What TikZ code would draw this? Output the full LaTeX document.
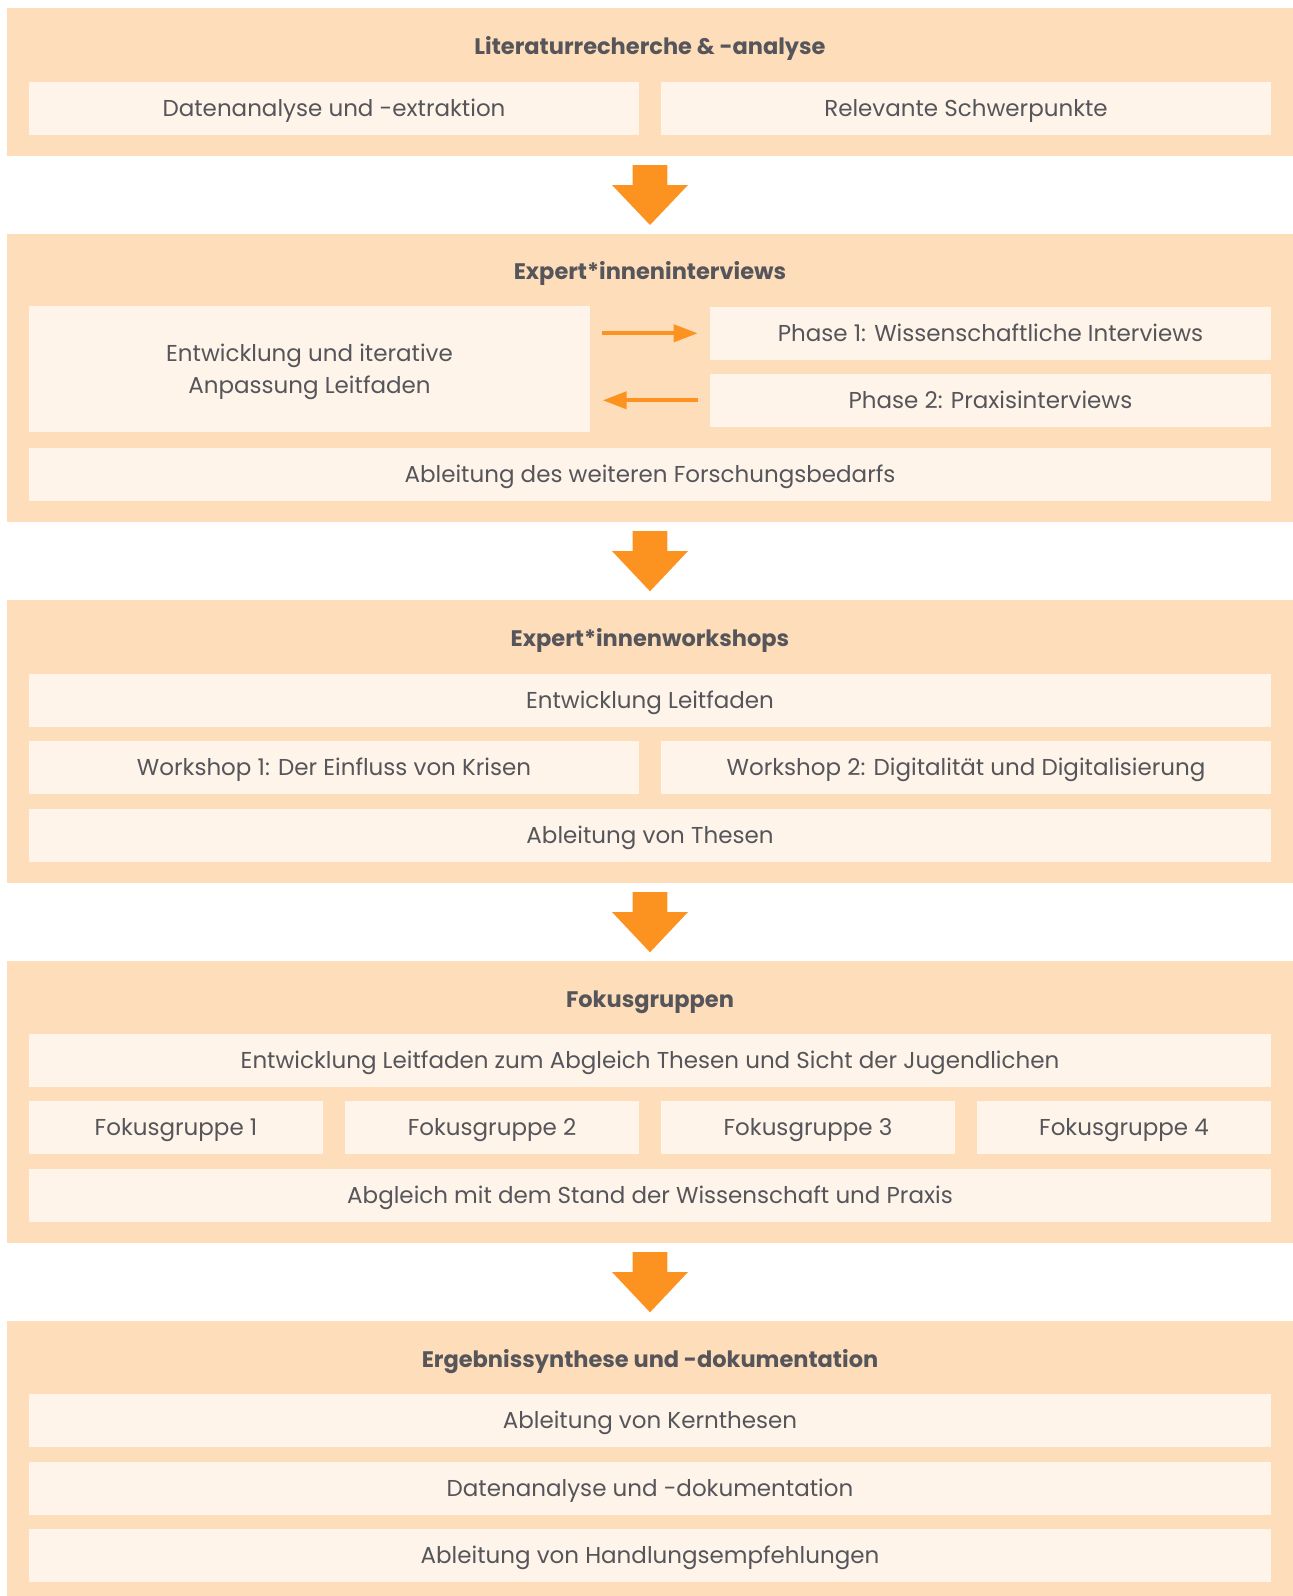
\documentclass[tikz,border=0pt]{standalone}
\usepackage{fontspec}
\setmainfont{Poppins}
\usetikzlibrary{arrows.meta,calc}
\definecolor{secc}{HTML}{FEDDBA}
\definecolor{cellc}{HTML}{FEF4EA}
\definecolor{arrc}{HTML}{FC9321}
\definecolor{txt}{HTML}{55555A}
\tikzset{
  sec/.style={fill=secc, draw=none, inner sep=0pt, outer sep=0pt, anchor=north west, minimum width=1286pt},
  cellbase/.style={fill=cellc, draw=none, inner sep=0pt, outer sep=0pt, anchor=north west, minimum height=53pt, text=txt, font=\fontsize{23}{32}\selectfont, align=center},
  cell/.style={cellbase, text height=16.1pt, text depth=0pt, yshift=-0.8pt},
  ttl/.style={text=txt, font=\fontsize{22.5}{28}\selectfont\bfseries, inner sep=0pt, text height=15.8pt, text depth=0pt},
  lbl/.style={text=txt, font=\fontsize{23}{32}\selectfont, align=center, inner sep=0pt},
  harrow/.style={draw=arrc, line width=4pt, -{Triangle[length=24pt,width=17pt]}},
}
\newcommand\sectarrow[2]{%
  \fill[arrc] ($(#1.south)+(-17.3,9.3)$) -- ++(34.6,0) -- ++(0,20) -- ++(20.7,0)
    -- ($(#2.north)+(0,-8.7)$) -- ($(#1.south)+(-38,29.3)$) -- ++(20.7,0) -- cycle;}
\begin{document}
\begin{tikzpicture}[x=1pt,y=-1pt]
\useasboundingbox (0,0) rectangle (1293,1596);
% section 1
\node[sec, minimum height=147.7pt] (s1) at (7,8) {};
\node[ttl] (t1) at (650,46.5) {Literaturrecherche \& -analyse};
\node[cell, minimum width=610pt] (c11) at (29,81) {Datenanalyse und -extraktion};
\node[cell, minimum width=610pt] (c12) at (661,81) {Relevante Schwerpunkte};
% section 2
\node[sec, minimum height=288pt] (s2) at (7,233.7) {};
\node[ttl] (t2) at (650,272) {Expert*inneninterviews};
\node[cellbase, minimum width=561pt, minimum height=126pt] (c21) at (29,305.7) {};
\node[lbl] (c21t) at ($(c21.center)+(0,3.5)$) {Entwicklung und iterative\\Anpassung Leitfaden};
\node[cell, minimum width=561pt] (c22) at (710,306) {Phase 1: Wissenschaftliche Interviews};
\node[cell, minimum width=561pt] (c23) at (710,373) {Phase 2: Praxisinterviews};
\node[cell, minimum width=1242pt] (c24) at (29,447) {Ableitung des weiteren Forschungsbedarfs};
\draw[harrow, shorten <=11.7pt, shorten >=12.3pt] (c21.east |- c22.west) -- (c22.west);
\draw[harrow, shorten <=12.3pt, shorten >=12.7pt] (c23.west) -- (c21.east |- c23.west);
% section 3
\node[sec, minimum height=282.7pt] (s3) at (7,600) {};
\node[ttl] (t3) at (650,638.5) {Expert*innenworkshops};
\node[cell, minimum width=1242pt] (c31) at (29,673) {Entwicklung Leitfaden};
\node[cell, minimum width=610pt] (c32) at (29,739.7) {Workshop 1: Der Einfluss von Krisen};
\node[cell, minimum width=610pt] (c33) at (661,739.7) {Workshop 2: Digitalität und Digitalisierung};
\node[cell, minimum width=1242pt] (c34) at (29,808) {Ableitung von Thesen};
% section 4
\node[sec, minimum height=281.7pt] (s4) at (7,961) {};
\node[ttl] (t4) at (650,999.5) {Fokusgruppen};
\node[cell, minimum width=1242pt] (c41) at (29,1032.7) {Entwicklung Leitfaden zum Abgleich Thesen und Sicht der Jugendlichen};
\node[cell, minimum width=294pt] (c42) at (29,1099.7) {Fokusgruppe 1};
\node[cell, minimum width=294pt] (c43) at (345,1099.7) {Fokusgruppe 2};
\node[cell, minimum width=294pt] (c44) at (661,1099.7) {Fokusgruppe 3};
\node[cell, minimum width=294pt] (c45) at (977,1099.7) {Fokusgruppe 4};
\node[cell, minimum width=1242pt] (c46) at (29,1167.7) {Abgleich mit dem Stand der Wissenschaft und Praxis};
% section 5
\node[sec, minimum height=275pt] (s5) at (7,1321) {};
\node[ttl] (t5) at (650,1359.5) {Ergebnissynthese und -dokumentation};
\node[cell, minimum width=1242pt] (c51) at (29,1392.7) {Ableitung von Kernthesen};
\node[cell, minimum width=1242pt] (c52) at (29,1460.7) {Datenanalyse und -dokumentation};
\node[cell, minimum width=1242pt] (c53) at (29,1527.7) {Ableitung von Handlungsempfehlungen};
% arrows between sections
\sectarrow{s1}{s2}
\sectarrow{s2}{s3}
\sectarrow{s3}{s4}
\sectarrow{s4}{s5}
\end{tikzpicture}
\end{document}
